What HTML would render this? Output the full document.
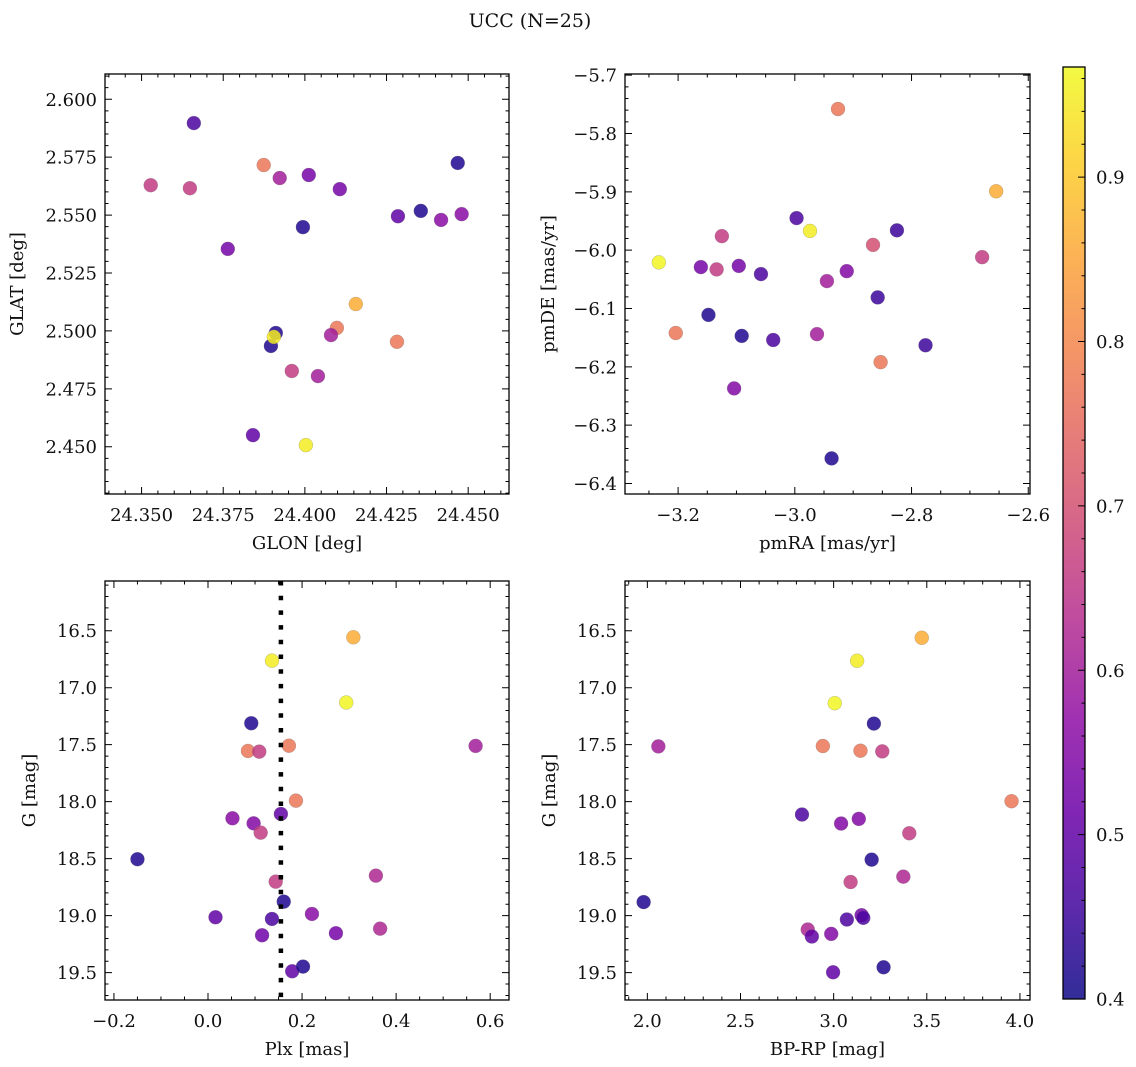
<!DOCTYPE html>
<html><head><meta charset="utf-8"><style>
html,body{margin:0;padding:0;background:#fff;}
svg{display:block;font-family:"DejaVu Serif","Liberation Serif",serif;}
</style></head><body>
<svg id="fig" width="1136" height="1067" viewBox="0 0 1136 1067" xmlns="http://www.w3.org/2000/svg">
<text x="530" y="27" font-size="19" text-anchor="middle" fill="#111">UCC (N=25)</text>
</svg>
<script>
// ---- data ----
const glon=[24.366,24.3528,24.3648,24.3874,24.3923,24.4012,24.4107,24.3994,24.3764,24.4285,24.4355,24.4417,24.4468,24.448,24.4156,24.4098,24.408,24.3911,24.3896,24.3905,24.396,24.404,24.4282,24.3841,24.4003];
const glat=[2.5897,2.5629,2.5616,2.5716,2.566,2.5673,2.5612,2.5448,2.5354,2.5495,2.5518,2.5479,2.5725,2.5504,2.5116,2.5013,2.4982,2.4991,2.4935,2.4974,2.4827,2.4805,2.4953,2.455,2.4507];
const cTL=[0.47,0.66,0.66,0.77,0.6,0.53,0.53,0.42,0.53,0.5,0.42,0.56,0.42,0.56,0.86,0.77,0.6,0.42,0.42,0.95,0.66,0.6,0.77,0.5,0.95];
const pmra=[-2.926,-2.655,-2.974,-2.997,-3.125,-3.233,-3.161,-3.134,-3.096,-3.058,-2.945,-2.911,-2.866,-2.825,-2.679,-2.858,-3.148,-3.204,-3.091,-3.037,-2.962,-2.853,-2.776,-3.104,-2.937];
const pmde=[-5.758,-5.899,-5.967,-5.945,-5.976,-6.021,-6.029,-6.033,-6.027,-6.041,-6.053,-6.036,-5.991,-5.966,-6.012,-6.081,-6.111,-6.142,-6.147,-6.154,-6.144,-6.192,-6.163,-6.237,-6.357];
const cTR=[0.77,0.86,0.95,0.47,0.66,0.96,0.53,0.66,0.53,0.47,0.6,0.55,0.7,0.45,0.66,0.45,0.42,0.77,0.42,0.47,0.6,0.77,0.45,0.55,0.42];
const plx=[0.136,0.092,0.085,0.109,0.172,0.187,0.052,0.097,0.112,0.155,-0.150,0.144,0.161,0.016,0.136,0.221,0.115,0.179,0.202,0.309,0.294,0.569,0.357,0.366,0.272];
const gBL=[16.763,17.312,17.555,17.561,17.509,17.991,18.146,18.19,18.272,18.108,18.505,18.702,18.877,19.014,19.029,18.985,19.172,19.488,19.447,16.558,17.13,17.511,18.649,19.114,19.154];
const cBL=[0.95,0.42,0.77,0.66,0.77,0.77,0.56,0.55,0.66,0.5,0.42,0.66,0.42,0.5,0.47,0.56,0.52,0.5,0.42,0.86,0.96,0.6,0.62,0.62,0.53];
const bprp=[3.473,3.126,3.006,3.216,2.059,2.942,3.144,3.261,3.955,2.83,3.04,3.135,3.406,3.204,3.374,3.091,1.98,3.15,3.159,3.071,2.861,2.883,2.987,2.997,3.268];
const gBR=[16.562,16.764,17.136,17.315,17.515,17.512,17.553,17.559,17.996,18.113,18.192,18.151,18.277,18.509,18.658,18.705,18.881,18.996,19.019,19.034,19.122,19.183,19.16,19.497,19.453];
const cBR=[0.86,0.95,0.96,0.42,0.6,0.77,0.77,0.66,0.77,0.47,0.55,0.55,0.66,0.42,0.62,0.66,0.42,0.53,0.47,0.47,0.62,0.5,0.55,0.5,0.42];
const plxLine=[0.155];
const ticksTLx=[24.35,24.375,24.4,24.425,24.45];
const ticksTLy=[2.45,2.475,2.5,2.525,2.55,2.575,2.6];
const ticksTRx=[-3.2,-3.0,-2.8,-2.6];
const ticksTRy=[-6.4,-6.3,-6.2,-6.1,-6.0,-5.9,-5.8,-5.7];
const ticksBLx=[-0.2,0.0,0.2,0.4,0.6];
const ticksGy=[16.5,17.0,17.5,18.0,18.5,19.0,19.5];
const ticksBRx=[2.0,2.5,3.0,3.5,4.0];
const cbarTicks=[0.4,0.5,0.6,0.7,0.8,0.9];
const cmin=0.4,cmax=0.967;

const NS="http://www.w3.org/2000/svg";
const svg=document.getElementById('fig');
const FS=18;
function mk(tag,attrs,parent){const e=document.createElementNS(NS,tag);for(const k in attrs)e.setAttribute(k,attrs[k]);(parent||svg).appendChild(e);return e;}
const plasma=[[13,8,135],[65,4,157],[106,0,168],[143,13,164],[177,42,144],[204,71,120],[225,100,98],[242,132,75],[252,166,54],[252,206,37],[240,249,33]];
function cmap(t){t=Math.max(0,Math.min(1,t));const p=t*10,i=Math.min(9,Math.floor(p)),f=p-i;const a=plasma[i],b=plasma[i+1];return 'rgb('+[0,1,2].map(k=>Math.round(a[k]+(b[k]-a[k])*f)).join(',')+')';}
function fmt(v,d){return (v<0?'\u2212':'')+Math.abs(v).toFixed(d);}

function panel(name,px0,px1,py0,py1,xl,yl,invY,xs,ys,cs,xt,yt,xd,yd,xmin,ymin,xlab,ylab,ylabX){
  const g=mk('g',{},svg);
  
  
  const X=v=>px0+(v-xl[0])/(xl[1]-xl[0])*(px1-px0);
  const Y=v=>invY? py0+(v-yl[0])/(yl[1]-yl[0])*(py1-py0) : py1-(v-yl[0])/(yl[1]-yl[0])*(py1-py0);
  g.X=X;g.Y=Y;
  for(let i=0;i<xs.length;i++){
    const c=mk('circle',{cx:X(xs[i]),cy:Y(ys[i]),r:7,fill:cmap((cs[i]-cmin)/(cmax-cmin)),'fill-opacity':0.85,stroke:'#777','stroke-width':0.4,'stroke-opacity':0.6},g);
    
    
  }
  const fr=mk('rect',{x:px0,y:py0,width:px1-px0,height:py1-py0,fill:'none',stroke:'#000','stroke-width':1.3},g);
  
  
  function minors(lo,hi,step){const a=[];const s=Math.ceil(lo/step-1e-6);for(let k=s;k*step<=hi+1e-9;k++)a.push(k*step);return a;}
  const xlo=Math.min(xl[0],xl[1]),xhi=Math.max(xl[0],xl[1]);
  const ylo=Math.min(yl[0],yl[1]),yhi=Math.max(yl[0],yl[1]);
  let d='';
  minors(xlo,xhi,xmin).forEach(v=>{const x=X(v);d+=`M${x},${py1}v-3.5M${x},${py0}v3.5`;});
  minors(ylo,yhi,ymin).forEach(v=>{const y=Y(v);d+=`M${px0},${y}h3.5M${px1},${y}h-3.5`;});
  xt.forEach(v=>{const x=X(v);d+=`M${x},${py1}v-7M${x},${py0}v7`;});
  yt.forEach(v=>{const y=Y(v);d+=`M${px0},${y}h7M${px1},${y}h-7`;});
  mk('path',{d:d,stroke:'#000','stroke-width':1,fill:'none'},g);
  xt.forEach(v=>{const t=mk('text',{x:X(v),y:py1+27,'font-size':FS,'text-anchor':'middle',fill:'#111'},g);t.textContent=fmt(v,xd);
    
    });
  yt.forEach(v=>{const t=mk('text',{x:px0-8,y:Y(v)+6.5,'font-size':FS,'text-anchor':'end',fill:'#111'},g);t.textContent=fmt(v,yd);
    
    });
  const xa=mk('text',{x:(px0+px1)/2,y:py1+55,'font-size':FS,'text-anchor':'middle',fill:'#111'},g);xa.textContent=xlab;
  
  
  const cy=(py0+py1)/2;
  const ya=mk('text',{x:ylabX,y:cy,'font-size':FS,'text-anchor':'middle',fill:'#111',transform:`rotate(-90 ${ylabX} ${cy})`},g);ya.textContent=ylab;
  
  
  return g;
}
panel('glon-glat-panel',105,509,74,494,[24.3388,24.4625],[2.4296,2.6109],false,glon,glat,cTL,ticksTLx,ticksTLy,3,3,0.005,0.005,'GLON [deg]','GLAT [deg]',23);
panel('pm-panel',625,1030,74,494,[-3.291,-2.597],[-6.418,-5.698],false,pmra,pmde,cTR,ticksTRx,ticksTRy,1,1,0.05,0.02,'pmRA [mas/yr]','pmDE [mas/yr]',554);
const bl=panel('plx-g-panel',105,509,581,1000,[-0.219,0.64],[16.064,19.74],true,plx,gBL,cBL,ticksBLx,ticksGy,1,1,0.05,0.1,'Plx [mas]','G [mag]',35);
panel('cmd-panel',625,1030,581,1000,[1.88,4.054],[16.064,19.74],true,bprp,gBR,cBR,ticksBRx,ticksGy,1,1,0.1,0.1,'BP-RP [mag]','G [mag]',555);
plxLine.forEach(v=>{const l=mk('line',{x1:bl.X(v),x2:bl.X(v),y1:581,y2:1000,stroke:'#000','stroke-width':4.5,'stroke-dasharray':'4.5 10.2'},bl);
  
  });

const defs=mk('defs',{});
const lg=mk('linearGradient',{id:'cg',x1:0,y1:1,x2:0,y2:0},defs);
for(let i=0;i<=20;i++){mk('stop',{offset:(i/20),'stop-color':cmap(i/20),'stop-opacity':0.85},lg);}
const cb=mk('g',{});


const cbx0=1063,cbx1=1085,cby0=67,cby1=999;
const CY=v=>cby1-(v-cmin)/(cmax-cmin)*(cby1-cby0);
mk('rect',{x:cbx0,y:cby0,width:cbx1-cbx0,height:cby1-cby0,fill:'url(#cg)',stroke:'#000','stroke-width':1.3},cb);
let cd='';
for(let k=20;k*0.02<=cmax+1e-9;k++){const v=k*0.02;cd+=`M${cbx1},${CY(v)}h-3.5`;}
cbarTicks.forEach(v=>{cd+=`M${cbx1},${CY(v)}h-7`;});
mk('path',{d:cd,stroke:'#000','stroke-width':1},cb);
cbarTicks.forEach(v=>{const t=mk('text',{x:1096,y:CY(v)+6.5,'font-size':FS,fill:'#111'},cb);t.textContent=v.toFixed(1);
  
  });
</script>
</body></html>
